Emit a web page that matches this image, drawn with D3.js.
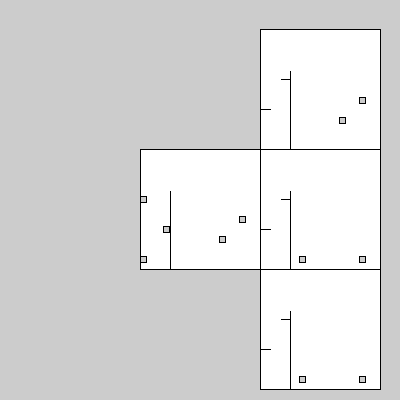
<!DOCTYPE html>
<html>
<head>
<meta charset="utf-8">
<script src="https://cdn.jsdelivr.net/npm/d3@7"></script>
<style>
  html, body { margin: 0; padding: 0; background: #cccccc; }
  svg { display: block; }
</style>
</head>
<body>
<svg id="chart" width="400" height="400"></svg>
<script>
// Grid cells (row, column) that are drawn
const cellRows = [0, 1, 1, 2];
const cellCols = [2, 1, 2, 2];
// Whether each cell shows axis ticks
const cellTicks = [true, false, true, true];

// Point values per cell
const cell0X = [5, 4];
const cell0Y = [1.95, 0.95];
const cell1X = [0.05, 1.2, 0.05, 4, 5];
const cell1Y = [3, 1.5, 0, 1, 2];
const cell2X = [2, 5];
const cell2Y = [0, 0];
const cell3X = [2, 5];
const cell3Y = [0, 0];

const cellXs = [cell0X, cell1X, cell2X, cell3X];
const cellYs = [cell0Y, cell1Y, cell2Y, cell3Y];

// Axis tick values
const tickMain = [3];
const tickSecond = [1.5];

const svg = d3.select("#chart");

const colScale = d3.scaleBand().domain([0, 1, 2]).range([20.5, 380.5]).padding(0);
const rowScale = d3.scaleBand().domain([0, 1, 2]).range([29.5, 389.5]).padding(0);
const size = colScale.bandwidth();

const x = d3.scaleLinear().domain([0, 5]).range([2, 102]);
const y = d3.scaleLinear().domain([0, 3]).range([110, 50]);
const yAxisScale = y.copy().domain([-0.5, 3.45]).range([y(-0.5), y(3.45)]);

const cells = cellRows.map((r, i) => ({
  row: r, col: cellCols[i], ticks: cellTicks[i],
  pts: cellXs[i].map((v, j) => ({ x: v, y: cellYs[i][j] }))
}));

const g = svg.selectAll("g.cell")
  .data(cells)
  .join("g")
  .attr("class", "cell")
  .attr("transform", d => `translate(${colScale(d.col)},${rowScale(d.row)})`);

g.append("rect")
  .attr("width", size)
  .attr("height", size)
  .attr("fill", "#ffffff")
  .attr("stroke", "#000")
  .attr("stroke-width", 1);

g.each(function(d) {
  const c = d3.select(this);
  const ax = c.append("g")
    .attr("transform", `translate(${x(1.4)},0)`)
    .call(d3.axisLeft(yAxisScale)
      .tickValues(d.ticks ? tickMain : [])
      .tickSize(10).tickSizeOuter(0).tickFormat("").offset(0));
  ax.selectAll("path, line").attr("stroke", "#000").attr("stroke-width", 1)
    .attr("shape-rendering", "crispEdges");
  if (d.ticks) {
    const ax2 = c.append("g")
      .attr("transform", `translate(${x(0.4)},0)`)
      .call(d3.axisLeft(yAxisScale)
        .tickValues(tickSecond).tickSize(10).tickSizeOuter(0).tickFormat("").offset(0));
    ax2.select("path.domain").remove();
    ax2.selectAll("line").attr("stroke", "#000").attr("stroke-width", 1)
      .attr("shape-rendering", "crispEdges");
  }
  c.selectAll("rect.pt")
    .data(d.pts)
    .join("rect")
    .attr("class", "pt")
    .attr("x", p => x(p.x) - 3)
    .attr("y", p => y(p.y) - 3)
    .attr("width", 6)
    .attr("height", 6)
    .attr("fill", "#cccccc")
    .attr("stroke", "#000")
    .attr("stroke-width", 1);
});
</script>
</body>
</html>
